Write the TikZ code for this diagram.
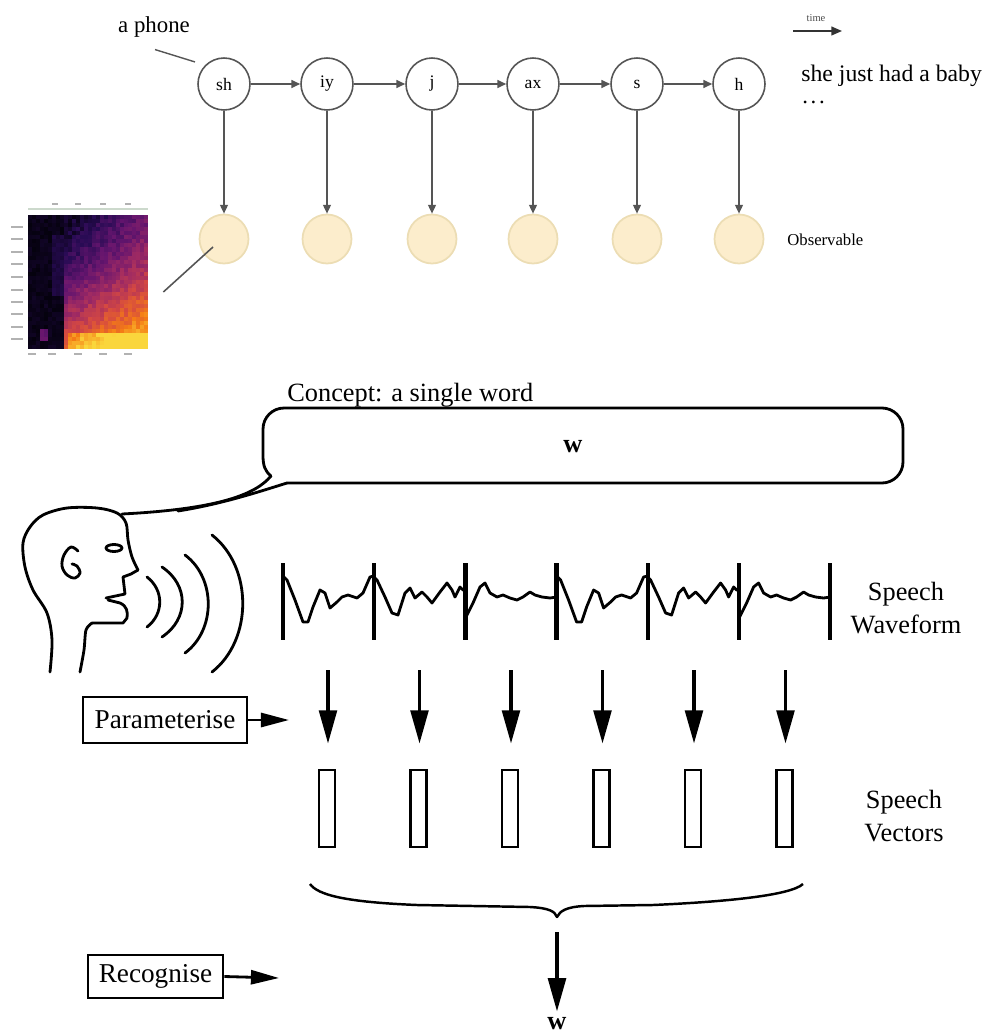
\documentclass[tikz,border=0pt]{standalone}
\usepackage{fontspec}
\setmainfont{Liberation Serif}
\usetikzlibrary{arrows.meta,calc}

\definecolor{hmmline}{RGB}{85,85,85}
\definecolor{obsfill}{RGB}{252,237,204}
\definecolor{obsdraw}{RGB}{236,221,180}
% colour map of the spectrogram (dark -> bright)
\definecolor{cm0}{RGB}{0,0,4}
\definecolor{cm1}{RGB}{40,11,84}
\definecolor{cm2}{RGB}{101,21,110}
\definecolor{cm3}{RGB}{159,42,99}
\definecolor{cm4}{RGB}{212,72,66}
\definecolor{cm5}{RGB}{245,125,21}
\definecolor{cm6}{RGB}{250,215,60}

\begin{document}
\begin{tikzpicture}[x=0.02cm,y=-0.02cm,
  phone/.style={circle,draw=hmmline,line width=0.9pt,minimum size=1.04cm,inner sep=0pt,
    font=\fontsize{10}{12}\selectfont},
  obs/.style={circle,draw=obsdraw,fill=obsfill,line width=1pt,minimum size=0.98cm,inner sep=0pt},
  hmmarrow/.style={draw=hmmline,line width=0.8pt,-{Triangle[length=5pt,width=4.5pt]}},
  inkline/.style={draw=black,line width=1.6pt,line cap=round,line join=round},
  waveline/.style={draw=black,line width=1.6pt,line join=round},
  bartick/.style={draw=black,line width=2.4pt},
  bigarrow/.style={draw=black,line width=2.2pt,-{Triangle[length=19pt,width=10pt]}},
  sidearrow/.style={draw=black,line width=1.6pt,-{Triangle[length=16pt,width=8pt]}},
  labelbox/.style={draw=black,line width=1.6pt,inner sep=0pt,font=\fontsize{15.5}{18}\selectfont},
  vecbox/.style={draw=black,line width=1.5pt,minimum width=0.32cm,minimum height=1.54cm,inner sep=0pt},
  sidelabel/.style={align=center,font=\fontsize{15}{19}\selectfont},
  tinytick/.style={draw=black!30,line width=0.9pt}
]
\useasboundingbox (0,0) rectangle (985,1034);

% ---------------- phone chain with observations ----------------
\foreach \ph/\xx in {sh/224,iy/327,j/432,ax/533,s/637,h/739}{
  \node[phone] (p\ph) at (\xx,84) {\ph};
  \node[obs] (o\ph) at (\xx,239) {};
  \draw[hmmarrow] (p\ph) -- (o\ph);
}
\draw[hmmarrow] (psh) -- (piy);
\draw[hmmarrow] (piy) -- (pj);
\draw[hmmarrow] (pj) -- (pax);
\draw[hmmarrow] (pax) -- (ps);
\draw[hmmarrow] (ps) -- (ph);

\node[font=\fontsize{13}{15}\selectfont] (lphone) at (154,27) {a phone};
\draw[draw=hmmline,line width=0.8pt,shorten >=6pt] ($(lphone.south)+(1,6)$) -- (psh.north west);

\node[font=\fontsize{6}{7}\selectfont,text=black!70] (ltime) at (816,18) {time};
\coordinate (t0) at (793,31);
\coordinate (t1) at (842,31);
\draw[draw=black!80,line width=0.8pt,-{Triangle[length=6pt,width=5pt]}] (t0) -- (t1);

\node[anchor=base west,font=\fontsize{13.5}{16}\selectfont,inner sep=0pt] (sent) at (801,82) {she just had a baby};
\node[anchor=base west,font=\fontsize{13}{15}\selectfont,inner sep=0pt] (dots) at (802,104) {.\kern1.5pt.\kern1.5pt.};
\node[anchor=west,font=\fontsize{9.5}{11}\selectfont,inner sep=0pt] (lobs) at (787,240) {Observable};

% ---------------- spectrogram ----------------
\pgfmathsetseed{11}
\foreach \i in {0,...,29}{
  \foreach \j in {0,...,32}{
    \pgfmathsetmacro{\cu}{(\i+0.5)/30}
    \pgfmathsetmacro{\cv}{(\j+0.5)/33}
    \pgfmathsetmacro{\lvl}{\cu<0.3 ? 0.02+0.05*rnd+0.08*((\cu>0.2)&&(\cv>0.15)&&(\cv<0.6))+0.28*((\cu>0.09)&&(\cu<0.17)&&(\cv>0.84)&&(\cv<0.95)) : 0.04+0.32*(\cu-0.3)/0.7+0.7*pow(\cv,1.4)+0.12*(rnd-0.5)+0.18*((\cv>0.88)&&(\cu>0.33))}
    \pgfmathsetmacro{\lvl}{max(0,min(0.999,\lvl))}
    \pgfmathsetmacro{\sc}{\lvl*6}
    \pgfmathtruncatemacro{\ka}{floor(\sc)}
    \pgfmathtruncatemacro{\kb}{\ka+1}
    \pgfmathtruncatemacro{\pc}{round(100*(1-(\sc-\ka)))}
    \fill[cm\ka!\pc!cm\kb] ({28+4*\i},{215+4.06*\j}) rectangle ({32.4+4*\i},{219.5+4.06*\j});
  }
}
\node[minimum width=2.4cm,minimum height=2.68cm,inner sep=0pt] (spec) at (88,282) {};
\foreach \yy in {227,239,252,264,277,290,302,314,327,339}
  \draw[tinytick] (11,\yy) -- (23,\yy);
\foreach \xx in {32,52,78,103,128}
  \draw[tinytick] ({\xx-4},354) -- ({\xx+4},354);
\foreach \xx in {55,78,103,128}
  \draw[tinytick] ({\xx-3},204) -- ({\xx+3},204);
\draw[draw=green!25!black!20,line width=0.6pt] (28,209) -- (148,209);
\draw[draw=hmmline,line width=0.9pt] ($(spec.east)+(15,10)$) -- ($(osh.center)+(-11,8)$);

% ---------------- concept bubble ----------------
\node[anchor=base west,font=\fontsize{15}{18}\selectfont,inner sep=0pt] (concept) at (287,401) {Concept: a single word};
\draw[inkline] (271,476) .. controls (265,471) and (263,466) .. (263,455)
  [rounded corners=12pt] -- (263,408) -- (903,408) -- (903,483) -- (287,483);
\node[font=\bfseries\fontsize{15}{18}\selectfont] (wtop) at (573,447) {w};

% bubble tail down to the head
\draw[inkline] (271,476) .. controls (256,494) and (220,509) .. (122,514);
\draw[inkline] (287,483) .. controls (258,492) and (222,504) .. (178,511);

% ---------------- speaking head ----------------
\draw[inkline] plot[smooth,tension=0.55] coordinates {(50,672) (52,640) (47,613) (33,590) (25,567) (23,543) (30,527) (43,515) (67,508) (97,508) (117,513) (126,523) (128,540) (132,557) (138,570)};
\draw[inkline] (138,570) -- (131,574) -- (123,577) .. controls (124,585) .. (125,594) -- (106,598);
\draw[inkline] (108,600) -- (120,603) .. controls (127,606) and (128,612) .. (127,618) -- (123,623) -- (92,623);
\draw[inkline] plot[smooth,tension=0.5] coordinates {(92,623) (86,630) (84,650) (80,672)};
\draw[inkline] (114,548) ellipse [x radius=8, y radius=3.5];
\draw[inkline] plot[smooth,tension=0.6] coordinates {(78,551) (71,547) (64,555) (62,566) (67,575) (75,578) (80,573) (77,566) (72,564)};

% sound waves
\draw[inkline] (147,577) .. controls (164,590) and (164,614) .. (147,627);
\draw[inkline] (162,567) .. controls (189,585) and (189,619) .. (162,637);
\draw[inkline] (185,555) .. controls (216,578) and (216,630) .. (185,653);
\draw[inkline] (212,535) .. controls (253,567) and (253,640) .. (212,672);

% ---------------- speech waveform ----------------
\foreach \rep in {0,1}{
  \begin{scope}[shift={(273.6*\rep,0)}]
    \draw[waveline] (283,576) -- (287,580) -- (295,600) -- (303,622) -- (308,622) -- (313,607) -- (320,590) -- (325,593) -- (330,608) -- (337,602) -- (342,597) -- (348,595) -- (357,598) -- (363,593) -- (370,577) -- (374,576);
    \draw[waveline] (374,577) -- (377,580) -- (385,597) -- (392,613) -- (398,615) -- (405,593) -- (410,588) -- (415,598) -- (422,592) -- (427,597) -- (432,603) -- (440,592) -- (447,583) -- (452,590) -- (455,597) -- (460,587) -- (463,590) -- (466,590);
    \draw[waveline] (466,617) -- (473,603) -- (480,587) -- (485,583) -- (490,593) -- (497,597) -- (503,595) -- (510,598) -- (517,600) -- (523,597) -- (530,592) -- (535,595) -- (542,597) -- (550,598) -- (557,597);
  \end{scope}
}
\foreach \b in {0,...,6}
  \draw[bartick] ({283+91.2*\b},563) -- ({283+91.2*\b},640);
\node[sidelabel] (lwave) at (906,608) {Speech\\Waveform};

% ---------------- parameterisation ----------------
\foreach \n in {0,...,5}{
  \node[vecbox] (v\n) at ({327+91.5*\n},808.5) {};
  \coordinate (a\n) at ({328+91.5*\n},670);
  \draw[bigarrow] (a\n) -- ($(v\n.north)+(1,-25)$);
}
\node[labelbox,minimum width=3.28cm,minimum height=0.92cm] (param) at (165,720) {Parameterise};
\coordinate (pend) at (289,720);
\draw[sidearrow] (param.east) -- (pend);
\node[sidelabel] (lvec) at (904,816) {Speech\\Vectors};

% ---------------- recognition ----------------
\draw[draw=black,line width=1.4pt,line join=round]
  (310,884) .. controls (318,895) and (345,902) .. (417,905)
  -- (530,907) .. controls (548,908) and (555,911) .. (557,917)
  .. controls (560,911) and (566,907) .. (584,906)
  -- (653,905) .. controls (720,902) and (790,896) .. (803,884);
\coordinate (btip) at (557,932);
\node[font=\bfseries\fontsize{15}{18}\selectfont] (wout) at (557,1024) {w};
\draw[bigarrow] (btip) -- (wout.north);

\node[labelbox,minimum width=2.7cm,minimum height=0.86cm] (recog) at (155.5,976.5) {Recognise};
\coordinate (rend) at (279,978);
\draw[sidearrow] (recog.east) -- (rend);
\end{tikzpicture}
\end{document}
